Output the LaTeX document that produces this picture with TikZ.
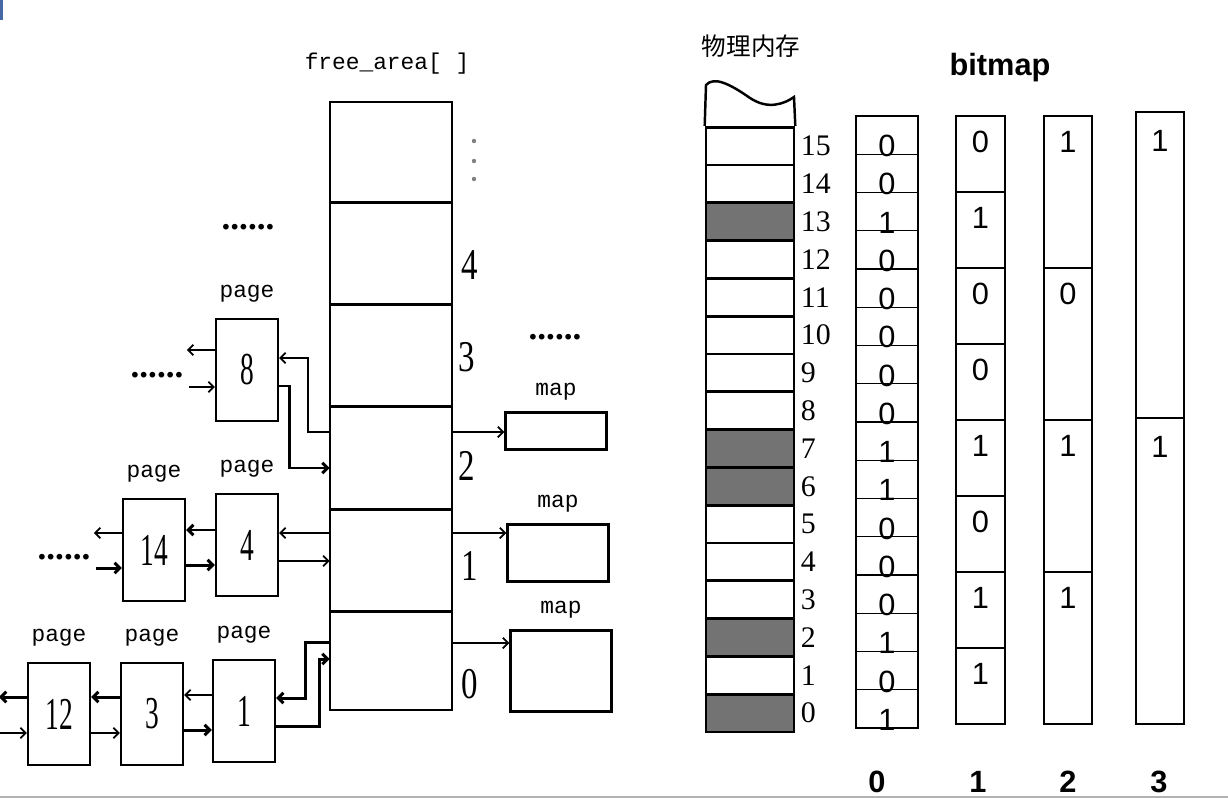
\documentclass[tikz,border=0pt]{standalone}
\usepackage{fontspec}
\usepackage{graphicx}
\setmainfont{Liberation Serif}
\setsansfont{Liberation Sans}
\setmonofont{Liberation Mono}
\newfontfamily\cjkfont{Noto Sans CJK SC}
\usetikzlibrary{positioning, arrows.meta, calc}

\definecolor{edgeblue}{RGB}{70,105,165}

% narrow digits, like the old bitmap font
\newcommand{\narrow}[1]{\scalebox{0.6}[1]{#1}}
\newcommand{\halfnarrow}[1]{\scalebox{0.75}[1]{#1}}

\tikzset{
  pagelbl/.style={font=\ttfamily\fontsize{13}{13}\selectfont},
  pagebox/.style={draw, line width=1.2pt, minimum width=1.24cm, minimum height=2.04cm,
    inner sep=0pt, font=\fontsize{26}{26}\selectfont,
    label={[pagelbl, anchor=center, label distance=14pt]90:page}},
  mapbox/.style={draw, line width=1.4pt, minimum width=2.02cm, inner sep=0pt,
    label={[pagelbl, anchor=center, label distance=11pt]90:map}},
  facell/.style={minimum width=2.44cm, inner sep=0pt},
  idx/.style={font=\fontsize{25}{25}\selectfont, inner sep=0pt},
  dots/.style={font=\bfseries\fontsize{20}{20}\selectfont, inner sep=0pt},
  link/.style={line width=1pt, -{Straight Barb[length=3pt, width=6pt]}},
  boldlink/.style={link, line width=1.7pt},
  memrow/.style={draw, line width=1.5pt, minimum width=1.76cm, minimum height=0.756cm, inner sep=0pt},
  used/.style={fill=black!55},
  free/.style={},
  memnum/.style={font=\fontsize{17}{17}\selectfont, inner sep=0pt},
  bitcell/.style={draw, line width=0.7pt, inner sep=0pt},
  bitval/.style={font=\sffamily\fontsize{17.5}{17.5}\selectfont, inner sep=0pt},
  bitlbl/.style={font=\sffamily\bfseries\fontsize{17.5}{17.5}\selectfont, inner sep=0pt},
}

\begin{document}
\begin{tikzpicture}[x=0.02cm, y=-0.02cm]
  \useasboundingbox (0,0) rectangle (1228,798);
  \fill[edgeblue] (0,0) rectangle (3,20);
  \draw[black!30, line width=1pt] (0,797) -- (1228,797);

  %% FREE_AREA ARRAY
  \node[pagelbl] (fatitle) at (387,64) {free\_area[ ]};
  \foreach \n/\t/\b in {5/102/203, 4/203/305, 3/305/407, 2/407/510, 1/510/612, 0/612/710}{
    \pgfmathsetmacro{\h}{(\b-\t)*0.02}
    \node[facell, minimum height=\h cm] (fa\n) at (391,{(\t+\b)/2}) {};
  }
  \draw[line width=1pt] (fa5.north west) rectangle (fa0.south east);
  \foreach \n in {4,...,0}
    \draw[line width=2pt] (fa\n.north west) -- (fa\n.north east);

  % the faint dots above index 4
  \foreach \yy in {141,161,179}
    \fill[black!50] (474,\yy) circle (2.2);
  \node[idx] (i4) at (470,265) {\halfnarrow{4}};
  \node[idx] (i3) at (467,357) {\halfnarrow{3}};
  \node[idx] (i2) at (467,466) {\halfnarrow{2}};
  \node[idx] (i1) at (470,566) {\halfnarrow{1}};
  \node[idx] (i0) at (470,684) {\halfnarrow{0}};

  %% PAGES
  \node[pagebox] (p8) at (247,370) {\narrow{8}};
  \node[pagebox] (p4) at (247,545) {\narrow{4}};
  \node[pagebox] (p14) at (154,550) {\narrow{14}};
  \node[pagebox] (p1) at (244,711) {\narrow{1}};
  \node[pagebox] (p3) at (152,714) {\narrow{3}};
  \node[pagebox] (p12) at (59,714) {\narrow{12}};

  \node[dots] (d8up) at (248,227) {......};
  \node[dots] (d8) at (157,375) {......};
  \node[dots] (d14) at (64,557) {......};

  %% MAPS
  \node[mapbox, minimum height=0.74cm] (map2) at (556,431) {};
  \node[mapbox, minimum height=1.14cm] (map1) at (558,553) {};
  \node[mapbox, minimum height=1.62cm] (map0) at (561,671) {};
  \node[dots] (dmap) at (555,337) {......};

  %% LINKS - free_area[2]
  \draw[link] (fa2.west |- 0,432) -- ++(-22,0) |- (p8.east |- 0,358);
  \draw[boldlink] (p8.east |- 0,386) -- ++(10,0) |- (fa2.west |- 0,468);
  \draw[link] (p8.west |- 0,350) -- ++(-28,0);
  \draw[link] (p8.west |- 0,387) ++(-26,0) -- ++(26,0);

  %% LINKS - free_area[1]
  \draw[link] (fa1.west |- 0,533) -- (p4.east |- 0,533);
  \draw[link] (p4.east |- 0,561) -- (fa1.west |- 0,561);
  \draw[boldlink] (p4.west |- 0,530) -- (p14.east |- 0,530);
  \draw[boldlink] (p14.east |- 0,565) -- (p4.west |- 0,565);
  \draw[link] (p14.west |- 0,533) -- ++(-28,0);
  \draw[boldlink] (p14.west |- 0,568) ++(-26,0) -- ++(26,0);

  %% LINKS - free_area[0]
  \draw[boldlink] (fa0.west |- 0,642) -- ++(-24,0) |- (p1.east |- 0,698);
  \draw[boldlink] (p1.east |- 0,726) -- ++(43,0) |- (fa0.west |- 0,659);
  \draw[link] (p1.west |- 0,695) -- (p3.east |- 0,695);
  \draw[boldlink] (p3.east |- 0,730) -- (p1.west |- 0,730);
  \draw[boldlink] (p3.west |- 0,697) -- (p12.east |- 0,697);
  \draw[link] (p12.east |- 0,733) -- (p3.west |- 0,733);
  \draw[boldlink] (p12.west |- 0,697) -- ++(-28,0);
  \draw[link] (p12.west |- 0,733) ++(-28,0) -- ++(28,0);

  %% LINKS - maps
  \draw[link] (fa2.east |- 0,432) -- (map2.west |- 0,432);
  \draw[link] (fa1.east |- 0,533) -- (map1.west |- 0,533);
  \draw[link] (fa0.east |- 0,643) -- (map0.west |- 0,643);

  %% PHYSICAL MEMORY
  \node[font=\cjkfont\fontsize{14}{14}\selectfont] (memtitle) at (751,46) {物理内存};
  \foreach \i/\s in {0/used, 1/free, 2/used, 3/free, 4/free, 5/free, 6/used, 7/used,
                     8/free, 9/free, 10/free, 11/free, 12/free, 13/used, 14/free, 15/free}{
    \pgfmathsetmacro{\yc}{732-37.8*(\i+0.5)}
    \node[memrow, \s] (mem\i) at (750,\yc) {};
    \node[memnum, right=3pt of mem\i] (mn\i) {\i};
  }
  \draw[line width=1.4pt] (mem15.north west) -- (706,85)
    .. controls (714,76) and (730,84) .. (750,98)
    .. controls (768,110) and (784,104) .. (794,97) -- (mem15.north east);

  %% BITMAP
  \node[bitlbl] (bmtitle) at (1000,68) {bitmap};
  \foreach \v [count=\k from 0] in {0,0,1,0,0,0,0,0,1,1,0,0,0,1,0,1}{
    \pgfmathsetmacro{\yc}{116+38.25*(\k+0.5)}
    \node[bitcell, minimum width=1.24cm, minimum height=0.765cm] (b0-\k) at (887,\yc) {};
    \node[bitval, anchor=base] (v0-\k) at ([yshift=-1pt]b0-\k.south) {\v};
  }
  \foreach \v [count=\k from 0] in {0,1,0,0,1,0,1,1}{
    \pgfmathsetmacro{\yc}{116+76*(\k+0.5)}
    \node[bitcell, minimum width=0.98cm, minimum height=1.52cm] (b1-\k) at (980.5,\yc) {};
    \node[bitval] (v1-\k) at ($(b1-\k.north)+(0,27)$) {\v};
  }
  \foreach \v [count=\k from 0] in {1,0,1,1}{
    \pgfmathsetmacro{\yc}{116+152*(\k+0.5)}
    \node[bitcell, minimum width=0.96cm, minimum height=3.04cm] (b2-\k) at (1068,\yc) {};
    \node[bitval] (v2-\k) at ($(b2-\k.north)+(0,27)$) {\v};
  }
  \foreach \v [count=\k from 0] in {1,1}{
    \pgfmathsetmacro{\yc}{112+306*(\k+0.5)}
    \node[bitcell, minimum width=0.96cm, minimum height=6.12cm] (b3-\k) at (1160,\yc) {};
    \node[bitval] (v3-\k) at ($(b3-\k.north)+(0,30)$) {\v};
  }
  \node[bitlbl] (n0) at (877,782) {0};
  \node[bitlbl] (n1) at (978,782) {1};
  \node[bitlbl] (n2) at (1068,782) {2};
  \node[bitlbl] (n3) at (1159,782) {3};
\end{tikzpicture}
\end{document}
